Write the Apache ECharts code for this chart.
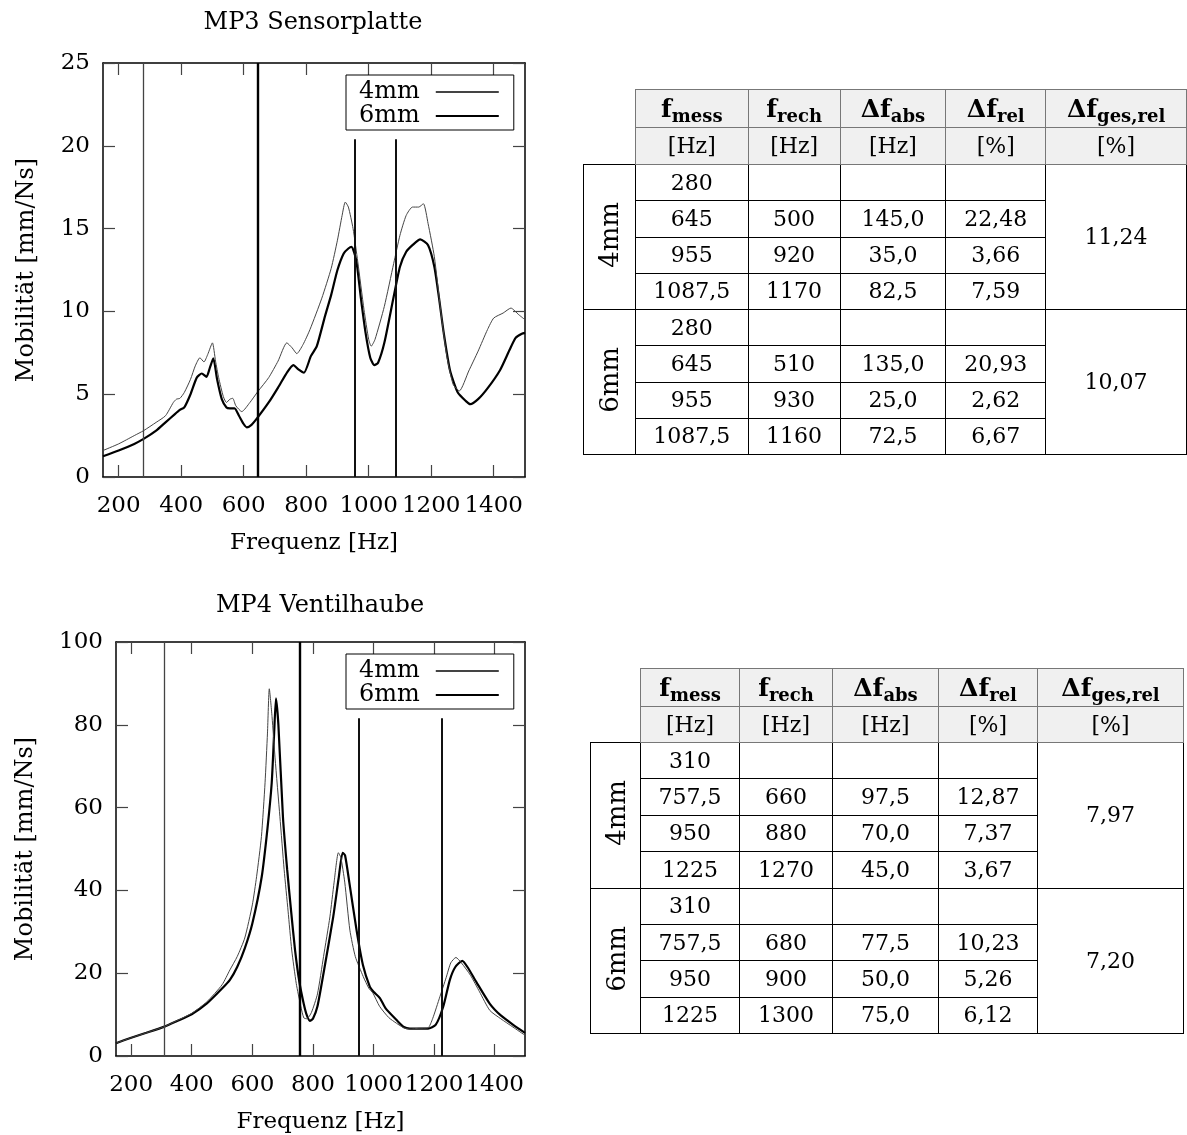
<!DOCTYPE html>
<html>
<head>
<meta charset="utf-8">
<script src="https://cdn.jsdelivr.net/npm/echarts@6/dist/echarts.min.js"></script>
<style>
  html, body { margin: 0; padding: 0; background: #fff; }
  #chart { position: absolute; left: 0; top: 0; width: 1187px; height: 1135px; }
  table.res { position: absolute; border-collapse: collapse; table-layout: fixed; z-index: 2;
    font-family: 'DejaVu Serif', serif; font-size: 22px; color: #000; }
  table.res th, table.res td { padding: 0; text-align: center; vertical-align: middle;
    border: 1px solid #000; white-space: nowrap; overflow: hidden; line-height: 1; }
  table.res th { background: #f0f0f0; font-weight: normal; border-color: #777; }
  table.res th.corner { background: transparent; border: none; }
  table.res th b { font-size: 25px; }
  table.res th b sub { font-size: 18px; vertical-align: -5px; line-height: 0; }
  table.res td.grp span { display: inline-block; writing-mode: vertical-rl; transform: rotate(180deg); font-size: 26px; }
</style>
</head>
<body>
<div id="chart"></div>
<script>
// --- Daten MP3 Sensorplatte: [Frequenz Hz, Mobilität mm/Ns] ---
const mp3_4mm = [[150,1.6],[200,2.0],[250,2.5],[280,2.8],[320,3.3],[350,3.7],[375,4.5],[385,4.7],[396,4.75],[410,5.1],[430,5.9],[445,6.7],[460,7.2],[473,6.95],[485,7.4],[500,8.1],[510,7.0],[520,6.0],[535,4.85],[545,4.5],[556,4.7],[565,4.75],[575,4.3],[594,3.95],[620,4.5],[645,5.15],[680,6.0],[710,7.0],[738,8.1],[755,7.8],[770,7.45],[790,8.0],[812,8.9],[850,10.8],[880,12.6],[900,14.3],[915,15.8],[925,16.6],[935,16.3],[950,15.0],[965,13.0],[985,10.1],[1000,8.3],[1008,7.9],[1020,8.3],[1050,10.3],[1080,12.9],[1100,14.6],[1120,15.8],[1140,16.3],[1160,16.3],[1175,16.5],[1190,15.3],[1210,13.3],[1230,10.1],[1250,7.3],[1270,5.6],[1290,5.2],[1320,6.4],[1350,7.6],[1380,8.9],[1400,9.6],[1430,9.9],[1455,10.2],[1480,9.8],[1500,9.5]];
const mp3_6mm = [[150,1.25],[200,1.6],[250,2.0],[280,2.3],[320,2.8],[350,3.3],[380,3.8],[396,4.05],[410,4.2],[430,5.0],[450,6.0],[466,6.25],[481,6.05],[492,6.6],[503,7.17],[515,5.9],[530,4.7],[545,4.2],[556,4.15],[571,4.15],[585,3.7],[600,3.2],[610,3.0],[625,3.15],[645,3.6],[680,4.5],[710,5.4],[740,6.35],[759,6.76],[775,6.5],[793,6.3],[815,7.3],[834,7.9],[860,9.7],[880,11.0],[900,12.5],[920,13.5],[935,13.8],[945,13.9],[960,13.1],[975,10.8],[990,8.7],[1005,7.2],[1018,6.75],[1030,6.9],[1050,8.1],[1080,10.9],[1100,12.7],[1120,13.6],[1140,14.0],[1165,14.35],[1190,14.0],[1210,12.7],[1225,10.8],[1240,8.7],[1260,6.45],[1285,5.1],[1310,4.6],[1325,4.4],[1350,4.7],[1380,5.35],[1420,6.45],[1450,7.65],[1470,8.4],[1490,8.65],[1500,8.7]];

// --- Daten MP4 Ventilhaube ---
const mp4_4mm = [[150,3.1],[200,4.4],[250,5.6],[310,7.1],[350,8.5],[400,10.3],[450,13.1],[500,17.2],[526,20.8],[550,24.0],[575,28.5],[600,36.5],[614,43.3],[630,53],[642,66],[650,78],[656,88.7],[665,82],[675,72],[691,57.8],[705,45],[718,35],[730,25.6],[745,17.5],[760,12.0],[770,9.2],[780,9.0],[795,10.5],[815,15],[835,24],[856,33.6],[870,42],[884,49.1],[892,48],[905,42],[922,30.4],[940,24],[966,19.2],[985,16.3],[998,15.2],[1020,12.0],[1050,9.3],[1076,7.9],[1100,6.8],[1120,6.5],[1150,6.7],[1180,6.8],[1195,9.0],[1219,14.3],[1240,19],[1255,22.5],[1272,23.8],[1290,22.5],[1320,19.5],[1350,15.5],[1384,11.0],[1420,9.0],[1460,7.0],[1500,5.0]];
const mp4_6mm = [[150,3.1],[200,4.4],[250,5.6],[310,7.1],[350,8.4],[400,10.1],[450,12.7],[500,16.3],[526,18.4],[550,21.5],[575,26],[600,32],[631,43.3],[650,55],[664,66],[672,78],[678,86.4],[686,80],[701,57.8],[715,45],[728,35],[741,25.6],[755,18],[770,12.5],[780,9.8],[790,8.5],[800,9.0],[815,12],[835,20],[867,33.6],[885,43],[898,49.1],[906,48.5],[920,42],[944,30.4],[965,22],[988,16.7],[1000,15.5],[1021,14.0],[1040,11.5],[1076,8.7],[1100,7.0],[1120,6.6],[1150,6.6],[1180,6.6],[1205,7.5],[1230,11.9],[1252,18.4],[1270,21.5],[1293,23.0],[1310,21.5],[1340,17.8],[1384,12.6],[1420,9.8],[1460,7.6],[1500,5.6]];

// Achsen
const xTicks = [200, 400, 600, 800, 1000, 1200, 1400];

// Tabellenwerte (f_mess = senkrechte Linien)
const mp3Mess = [280, 645, 955, 1087.5];
const mp3Rech4 = [null, 500, 920, 1170];
const mp3Abs4 = [null, 145.0, 35.0, 82.5];
const mp3Rel4 = [null, 22.48, 3.66, 7.59];
const mp3Ges4 = 11.24;
const mp3Rech6 = [null, 510, 930, 1160];
const mp3Abs6 = [null, 135.0, 25.0, 72.5];
const mp3Rel6 = [null, 20.93, 2.62, 6.67];
const mp3Ges6 = 10.07;

const mp4Mess = [310, 757.5, 950, 1225];
const mp4Rech4 = [null, 660, 880, 1270];
const mp4Abs4 = [null, 97.5, 70.0, 45.0];
const mp4Rel4 = [null, 12.87, 7.37, 3.67];
const mp4Ges4 = 7.97;
const mp4Rech6 = [null, 680, 900, 1300];
const mp4Abs6 = [null, 77.5, 50.0, 75.0];
const mp4Rel6 = [null, 10.23, 5.26, 6.12];
const mp4Ges6 = 7.20;

const FONT = 'DejaVu Serif';
const txt = { fontFamily: FONT, fontSize: 23, color: '#000' };

function xAx(grid, pos, withLabel) {
    return {
        type: 'value', gridIndex: grid, position: pos, min: 150, max: 1500,
        axisLine: { show: true, onZero: false, lineStyle: { color: '#000', width: 1.5 } },
        axisTick: { show: true, inside: true, length: 12, customValues: xTicks, lineStyle: { color: '#444', width: 1.2 } },
        axisLabel: withLabel ? Object.assign({ customValues: xTicks, margin: 18, formatter: function (v) { return String(v); } }, txt) : { show: false },
        splitLine: { show: false },
        name: withLabel ? 'Frequenz [Hz]' : '', nameLocation: 'middle', nameGap: 55, nameTextStyle: txt
    };
}
function yAx(grid, pos, max, step, withLabel, gap) {
    return {
        type: 'value', gridIndex: grid, position: pos, min: 0, max: max, interval: step,
        axisLine: { show: true, onZero: false, lineStyle: { color: '#000', width: 1.5 } },
        axisTick: { show: true, inside: true, length: 12, lineStyle: { color: '#444', width: 1.2 } },
        axisLabel: withLabel ? Object.assign({ margin: 13 }, txt) : { show: false },
        splitLine: { show: false },
        name: withLabel ? 'Mobilität [mm/Ns]' : '', nameLocation: 'middle', nameRotate: 90, nameGap: gap, nameTextStyle: Object.assign({}, txt, { fontSize: 24 })
    };
}

function vLines(mess, cut) {
    const st = [
        { type: 'solid', color: '#444', width: 1.3 },
        { type: 'solid', color: '#000', width: 2.4 },
        { type: 'solid', color: '#111', width: 2 },
        { type: 'solid', color: '#111', width: 2 }
    ];
    return mess.map(function (f, i) {
        if (i < 2) return { xAxis: f, lineStyle: st[i] };
        return [{ coord: [f, 0], lineStyle: st[i] }, { coord: [f, cut] }];
    });
}

function legendAt(top) {
    return {
        left: 346, top: top, orient: 'vertical', align: 'right',
        padding: [5, 14, 2, 13], itemGap: 0, itemWidth: 63, itemHeight: 24,
        borderColor: '#000', borderWidth: 1, backgroundColor: '#fff',
        itemStyle: { color: 'rgba(0,0,0,0)', borderColor: 'rgba(0,0,0,0)', borderWidth: 0 },
        textStyle: { fontFamily: FONT, fontSize: 24, color: '#000', lineHeight: 24, padding: [0, 11, 0, 0] },
        data: ['4mm', '6mm']
    };
}

function lineSeries(name, xi, yi, data, thick, marks) {
    const s = {
        name: name, type: 'line', xAxisIndex: xi, yAxisIndex: yi, data: data,
        symbol: 'none', smooth: 0.2, color: thick ? '#000' : '#444',
        lineStyle: { width: thick ? 2.2 : 1, color: thick ? '#000' : '#444' },
        z: thick ? 3 : 4
    };
    if (marks) {
        s.markLine = { silent: true, symbol: ['none', 'none'], label: { show: false }, animation: false,
            lineStyle: { type: 'solid' }, data: marks };
    }
    return s;
}

const chart = echarts.init(document.getElementById('chart'));
chart.setOption({
    animation: false,
    backgroundColor: '#fff',
    title: [
        { text: 'MP3 Sensorplatte', left: 313, top: 11, textAlign: 'center', padding: 0, textStyle: { fontFamily: FONT, fontSize: 24, fontWeight: 'normal', color: '#000' } },
        { text: 'MP4 Ventilhaube', left: 320, top: 594, textAlign: 'center', padding: 0, textStyle: { fontFamily: FONT, fontSize: 24, fontWeight: 'normal', color: '#000' } }
    ],
    legend: [legendAt(75), legendAt(654)],
    grid: [
        { left: 103, top: 63, width: 422, height: 414, show: false },
        { left: 116, top: 642, width: 409, height: 414, show: false }
    ],
    xAxis: [xAx(0, 'bottom', true), xAx(0, 'top', false), xAx(1, 'bottom', true), xAx(1, 'top', false)],
    yAxis: [yAx(0, 'left', 25, 5, true, 64), yAx(0, 'right', 25, 5, false, 0), yAx(1, 'left', 100, 20, true, 78), yAx(1, 'right', 100, 20, false, 0)],
    series: [
        lineSeries('4mm', 0, 0, mp3_4mm, false, null),
        lineSeries('6mm', 0, 0, mp3_6mm, true, vLines(mp3Mess, 20.4)),
        lineSeries('4mm', 2, 2, mp4_4mm, false, null),
        lineSeries('6mm', 2, 2, mp4_6mm, true, vLines(mp4Mess, 81.6))
    ]
});

// --- Tabellen ---
function num(v, d) {
    if (v == null) return '';
    return v.toFixed(d).replace('.', ',');
}
function mess(v) {
    return Number.isInteger(v) ? String(v) : v.toFixed(1).replace('.', ',');
}
function buildTable(cfg) {
    const t = document.createElement('table');
    t.className = 'res';
    t.style.left = cfg.left + 'px';
    t.style.top = cfg.top + 'px';
    let h = '<colgroup>' + cfg.colW.map(function (w) { return '<col style="width:' + w + 'px">'; }).join('') + '</colgroup>';
    h += '<tr style="height:' + cfg.headH[0] + 'px"><th class="corner" rowspan="2"></th>' +
        '<th><b>f<sub>mess</sub></b></th><th><b>f<sub>rech</sub></b></th><th><b>Δf<sub>abs</sub></b></th>' +
        '<th><b>Δf<sub>rel</sub></b></th><th><b>Δf<sub>ges,rel</sub></b></th></tr>';
    h += '<tr style="height:' + cfg.headH[1] + 'px"><th>[Hz]</th><th>[Hz]</th><th>[Hz]</th><th>[%]</th><th>[%]</th></tr>';
    cfg.groups.forEach(function (g) {
        for (let i = 0; i < 4; i++) {
            h += '<tr style="height:' + cfg.rowH + 'px">';
            if (i === 0) h += '<td class="grp" rowspan="4"><span>' + g.label + '</span></td>';
            h += '<td>' + mess(cfg.mess[i]) + '</td><td>' + (g.rech[i] == null ? '' : g.rech[i]) + '</td><td>' +
                num(g.abs[i], 1) + '</td><td>' + num(g.rel[i], 2) + '</td>';
            if (i === 0) h += '<td rowspan="4">' + num(g.ges, 2) + '</td>';
            h += '</tr>';
        }
    });
    t.innerHTML = h;
    document.body.appendChild(t);
}

buildTable({
    left: 583, top: 89, colW: [52, 113, 92, 106, 100, 141], headH: [38, 37], rowH: 36.25, mess: mp3Mess,
    groups: [
        { label: '4mm', rech: mp3Rech4, abs: mp3Abs4, rel: mp3Rel4, ges: mp3Ges4 },
        { label: '6mm', rech: mp3Rech6, abs: mp3Abs6, rel: mp3Rel6, ges: mp3Ges6 }
    ]
});
buildTable({
    left: 590, top: 668, colW: [50, 99, 93, 106, 99, 146], headH: [38, 36], rowH: 36.4, mess: mp4Mess,
    groups: [
        { label: '4mm', rech: mp4Rech4, abs: mp4Abs4, rel: mp4Rel4, ges: mp4Ges4 },
        { label: '6mm', rech: mp4Rech6, abs: mp4Abs6, rel: mp4Rel6, ges: mp4Ges6 }
    ]
});
</script>
</body>
</html>
